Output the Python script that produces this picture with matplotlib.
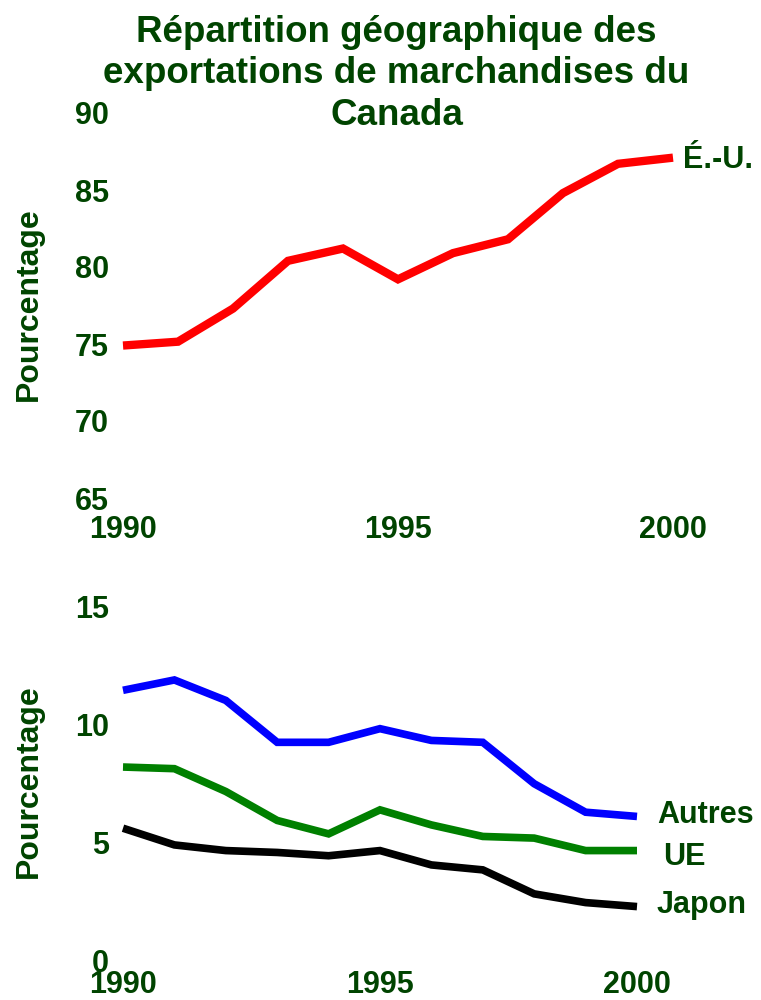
import matplotlib
matplotlib.use("Agg")
import matplotlib.pyplot as plt

plt.rcParams["font.family"] = ["Liberation Sans", "DejaVu Sans"]
plt.rcParams["font.weight"] = "bold"

TEXT = "#004400"

years = [1990, 1991, 1992, 1993, 1994, 1995, 1996, 1997, 1998, 1999, 2000]
us = [74.9, 75.15, 77.3, 80.4, 81.2, 79.2, 80.9, 81.8, 84.8, 86.7, 87.1]
others = [11.46, 11.9, 11.03, 9.25, 9.25, 9.83, 9.33, 9.25, 7.49, 6.28, 6.1]
eu = [8.2, 8.13, 7.16, 5.93, 5.36, 6.38, 5.74, 5.25, 5.18, 4.65, 4.65]
japan = [5.6, 4.89, 4.65, 4.57, 4.43, 4.65, 4.04, 3.83, 2.81, 2.44, 2.27]

x_ticks = [1990, 1995, 2000]
top_ticks = [65, 70, 75, 80, 85, 90]
bottom_ticks = [0, 5, 10, 15]

title = "Répartition géographique des\nexportations de marchandises du\nCanada"


def style_axes(ax, yticks, ylim, xpad):
    ax.set_xlim(1990, 2000)
    ax.set_ylim(*ylim)
    ax.set_xticks(x_ticks)
    ax.set_yticks(yticks)
    for side in ax.spines.values():
        side.set_visible(False)
    ax.tick_params(axis="both", length=0, labelsize=22, labelcolor=TEXT)
    ax.tick_params(axis="y", pad=10)
    ax.tick_params(axis="x", pad=xpad)
    for lab in ax.get_xticklabels() + ax.get_yticklabels():
        lab.set_fontweight("bold")


def end_label(ax, text, xs, ys, dx, dy):
    ax.annotate(text, (xs[-1], ys[-1]), xytext=(dx, dy), textcoords="offset points",
                ha="left", va="baseline", fontsize=22, fontweight="bold",
                color=TEXT, annotation_clip=False)


fig = plt.figure(figsize=(7.61, 10), dpi=100)

ax1 = fig.add_axes([123 / 761, 0.502, 550 / 761, 0.385])
line_kw = dict(solid_capstyle="butt", solid_joinstyle="miter", clip_on=False)
ax1.plot(years, us, color="#ff0000", lw=6, **line_kw)
style_axes(ax1, top_ticks, (65, 90), 12)
end_label(ax1, "É.-U.", years, us, 7.2, -7.2)

ax2 = fig.add_axes([123 / 761, 0.04, 514 / 761, 0.353])
ax2.plot(years, others, color="#0000ff", lw=5.5, **line_kw)
ax2.plot(years, eu, color="#008000", lw=5.5, **line_kw)
ax2.plot(years, japan, color="#000000", lw=5.5, **line_kw)
style_axes(ax2, bottom_ticks, (0, 15), 7)
end_label(ax2, "Autres", years, others, 14.4, -4.5)
end_label(ax2, "UE", years, eu, 18.7, -10.3)
end_label(ax2, "Japon", years, japan, 14.4, -4.5)

fig.text(28.5 / 761, 1 - 304 / 1000, "Pourcentage", rotation=90, ha="center", va="center",
         fontsize=23, fontweight="bold", color=TEXT)
fig.text(28.5 / 761, 1 - 781 / 1000, "Pourcentage", rotation=90, ha="center", va="center",
         fontsize=23, fontweight="bold", color=TEXT)

fig.text(396.5 / 761, 1 - 125 / 1000, title, ha="center", va="baseline", fontsize=26.5,
         fontweight="bold", color=TEXT, linespacing=1.25, multialignment="center")

fig.savefig("out.png", dpi=100)
